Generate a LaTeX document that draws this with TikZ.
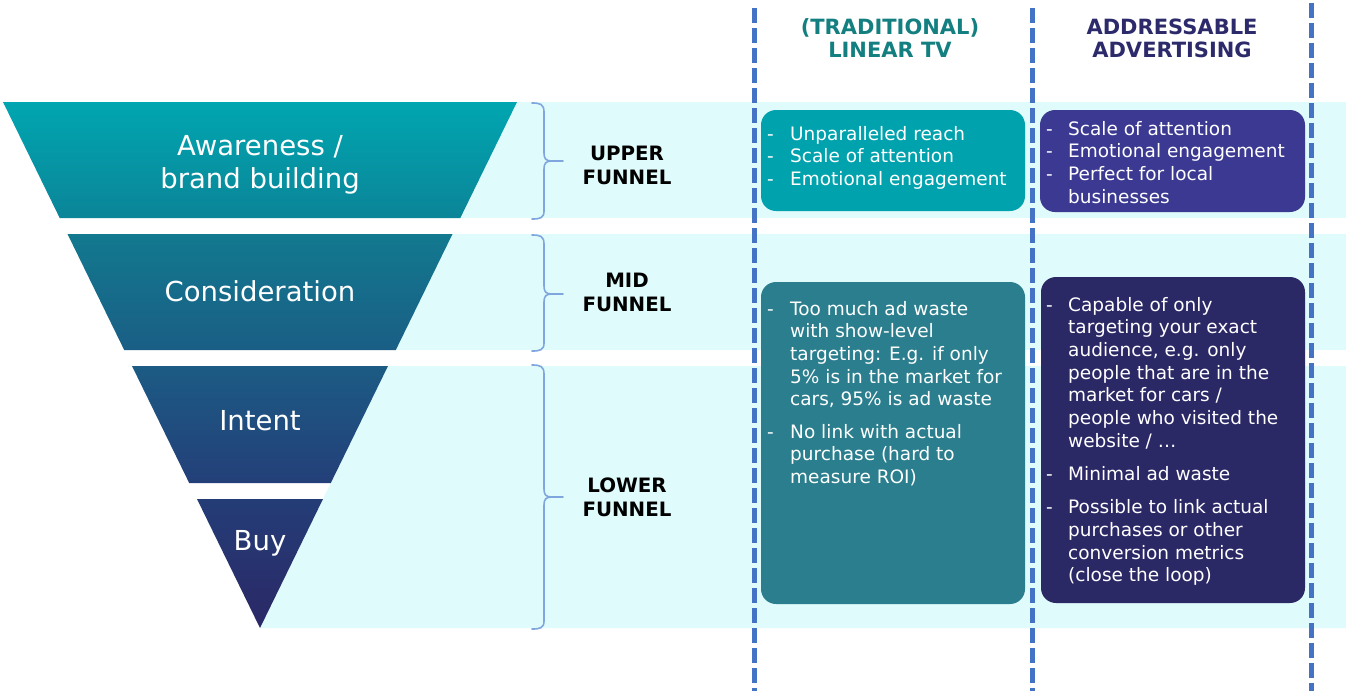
\documentclass[tikz,border=0pt]{standalone}
\usepackage{fontspec}
\setmainfont{DejaVu Sans}
\definecolor{bandc}{HTML}{E0FBFB}
\definecolor{tealbox}{HTML}{00A3AD}
\definecolor{purplebox}{HTML}{3B3991}
\definecolor{tealboxb}{HTML}{2A7E8D}
\definecolor{navybox}{HTML}{2B2866}
\definecolor{hdrteal}{HTML}{137F80}
\definecolor{hdrnavy}{HTML}{2C2A6A}
\definecolor{dashc}{HTML}{4472C4}
\definecolor{bracecol}{HTML}{7FA6DE}
\definecolor{fa}{HTML}{00A6B1}
\definecolor{fb}{HTML}{0B8598}
\definecolor{fc}{HTML}{12798F}
\definecolor{fd}{HTML}{1A5E85}
\definecolor{fe}{HTML}{1C5B84}
\definecolor{ff}{HTML}{233F79}
\definecolor{fg}{HTML}{243D77}
\definecolor{fh}{HTML}{2B2866}
\begin{document}
\begin{tikzpicture}[x=1pt,y=-1pt,
  dashline/.style={draw=dashc, line width=5pt, dash pattern=on 15pt off 5pt},
  bracestyle/.style={draw=bracecol, line width=1.6pt, line cap=round},
  box/.style={draw=none, rounded corners=15pt, inner sep=0pt, minimum width=#1},
  boxtext/.style={anchor=base west, inner sep=0pt, text=white, font=\fontsize{18.5}{22.7}\selectfont},
  hdr/.style={anchor=base, inner sep=0pt, font=\bfseries\fontsize{21}{23}\selectfont},
  lvl/.style={anchor=base, inner sep=0pt, font=\bfseries\fontsize{19.8}{24}\selectfont},
  flabel/.style={anchor=base, inner sep=0pt, text=white, font=\fontsize{27.5}{33}\selectfont}]
\useasboundingbox (0,0) rectangle (1346,691);
\fill[white] (0,0) rectangle (1346,691);
% bands
\fill[bandc] (300,102) rectangle (1346,218);
\fill[bandc] (300,234) rectangle (1346,350);
\fill[bandc] (388,366) -- (1346,366) -- (1346,628) -- (260,628) -- cycle;
% funnel slices
\shade[top color=fa, bottom color=fb] (3,102) -- (517,102) -- (460.3,218) -- (59.7,218) -- cycle;
\shade[top color=fc, bottom color=fd] (67.5,234) -- (452.5,234) -- (395.8,350) -- (124.2,350) -- cycle;
\shade[top color=fe, bottom color=ff] (132,366) -- (388,366) -- (330.8,483) -- (189.2,483) -- cycle;
\shade[top color=fg, bottom color=fh] (197,499) -- (323,499) -- (260,628) -- cycle;
\node[flabel] (aware) at (260,155) {\begin{tabular}[t]{@{}c@{}}Awareness /\\brand building\end{tabular}};
\node[flabel] (consid) at (260,301) {Consideration};
\node[flabel] (intent) at (260,430) {Intent};
\node[flabel] (buy) at (260,550) {Buy};
% braces
\draw[bracestyle] (532,103) .. controls (540,103) and (544,104) .. (544,112) -- (544,153) .. controls (544,159) and (546,161) .. (552,161) -- (563,161);
\draw[bracestyle] (552,161) .. controls (546,161) and (544,163) .. (544,169) -- (544,211) .. controls (544,218) and (540,219) .. (532,219);
\draw[bracestyle] (532,235) .. controls (540,235) and (544,236) .. (544,244) -- (544,286) .. controls (544,292) and (546,294) .. (552,294) -- (563,294);
\draw[bracestyle] (552,294) .. controls (546,294) and (544,296) .. (544,302) -- (544,343) .. controls (544,350) and (540,351) .. (532,351);
\draw[bracestyle] (532,365) .. controls (540,365) and (544,366) .. (544,374) -- (544,489) .. controls (544,495) and (546,497) .. (552,497) -- (563,497);
\draw[bracestyle] (552,497) .. controls (546,497) and (544,499) .. (544,505) -- (544,621) .. controls (544,628) and (540,629) .. (532,629);
\node[lvl] (upper) at (627,160) {\begin{tabular}[t]{@{}c@{}}UPPER\\FUNNEL\end{tabular}};
\node[lvl] (mid) at (627,287) {\begin{tabular}[t]{@{}c@{}}MID\\FUNNEL\end{tabular}};
\node[lvl] (lower) at (627,492) {\begin{tabular}[t]{@{}c@{}}LOWER\\FUNNEL\end{tabular}};
% dashed lines
\coordinate (d1t) at (754,8); \coordinate (d1b) at (754,691);
\coordinate (d2t) at (1032,8); \coordinate (d2b) at (1032,691);
\coordinate (d3t) at (1311,3); \coordinate (d3b) at (1311,691);
\draw[dashline] (d1t) -- (d1b);
\draw[dashline] (d2t) -- (d2b);
\draw[dashline] (d3t) -- (d3b);
% headers
\node[hdr, text=hdrteal] (hdrtv) at (890,34.5) {\begin{tabular}[t]{@{}c@{}}(TRADITIONAL)\\LINEAR TV\end{tabular}};
\node[hdr, text=hdrnavy] (hdraa) at (1172,34.5) {\begin{tabular}[t]{@{}c@{}}ADDRESSABLE\\ADVERTISING\end{tabular}};
% boxes
\node[box=264pt, minimum height=101pt, fill=tealbox] (tv1) at (893,160.5) {};
\node[box=265pt, minimum height=102pt, fill=purplebox] (aa1) at (1172.5,161) {};
\node[box=264pt, minimum height=322pt, fill=tealboxb] (tv2) at (893,443) {};
\node[box=264pt, minimum height=326pt, fill=navybox] (aa2) at (1173,440) {};
\node[boxtext] (tv1t) at (767,140) {\begin{tabular}[t]{@{}p{23pt}@{}l@{}}
- & Unparalleled reach\\
- & Scale of attention\\
- & Emotional engagement
\end{tabular}};
\node[boxtext] (aa1t) at (1046,135) {\begin{tabular}[t]{@{}p{22pt}@{}l@{}}
- & Scale of attention\\
- & Emotional engagement\\
- & Perfect for local\\
  & businesses
\end{tabular}};
\node[boxtext] (tv2t) at (767,315) {\begin{tabular}[t]{@{}p{23pt}@{}l@{}}
- & Too much ad waste\\
  & with show-level\\
  & targeting: E.g. if only\\
  & 5\% is in the market for\\
  & cars, 95\% is ad waste\\[9.5pt]
- & No link with actual\\
  & purchase (hard to\\
  & measure ROI)
\end{tabular}};
\node[boxtext] (aa2t) at (1046,311) {\begin{tabular}[t]{@{}p{22pt}@{}l@{}}
- & Capable of only\\
  & targeting your exact\\
  & audience, e.g. only\\
  & people that are in the\\
  & market for cars /\\
  & people who visited the\\
  & website / …\\[10.5pt]
- & Minimal ad waste\\[10.5pt]
- & Possible to link actual\\
  & purchases or other\\
  & conversion metrics\\
  & (close the loop)
\end{tabular}};
\end{tikzpicture}
\end{document}
